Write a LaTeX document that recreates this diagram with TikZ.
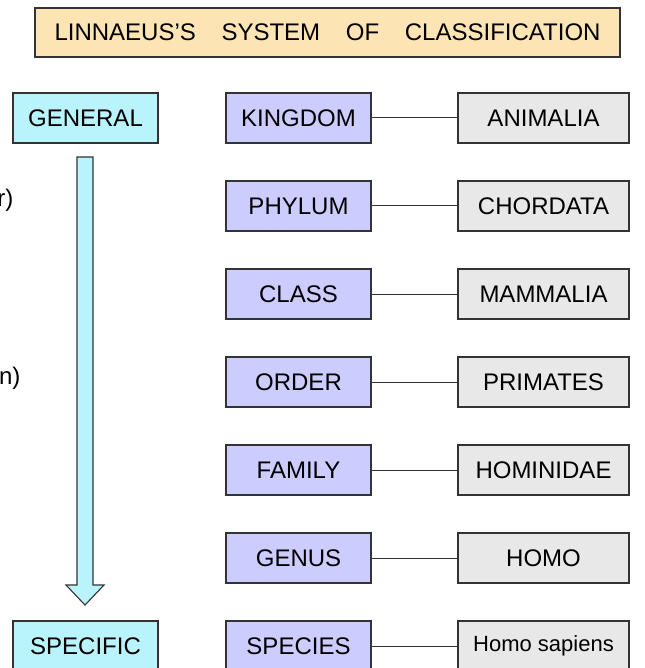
\documentclass[tikz,border=0pt]{standalone}
\usepackage{fontspec}
\setmainfont{Liberation Sans}
\usetikzlibrary{positioning}

\definecolor{titlefill}{HTML}{FCE4B4}
\definecolor{endfill}{HTML}{B9F3FC}
\definecolor{rankfill}{HTML}{CCCCFF}
\definecolor{taxonfill}{HTML}{E8E8E8}
\definecolor{edgegray}{HTML}{333333}

\begin{document}
\begin{tikzpicture}[
  x=1pt, y=-1pt,
  font=\fontsize{24}{28}\selectfont,
  box/.style={draw=edgegray, line width=1.1pt, minimum height=50pt, inner sep=0pt},
  titlebox/.style={box, fill=titlefill, minimum width=585pt, minimum height=49pt},
  endbox/.style={box, fill=endfill, minimum width=145pt},
  rankbox/.style={box, fill=rankfill, minimum width=145pt},
  taxonbox/.style={box, fill=taxonfill, minimum width=171pt},
  link/.style={draw=edgegray, line width=1pt}
]
\path[use as bounding box] (0,0) rectangle (644,668);
\clip (0,0) rectangle (644,668);
% title
\node[titlebox] (title) at (327.5,32.5) {LINNAEUS'S\hspace{19pt} SYSTEM\hspace{19pt} OF\hspace{19pt} CLASSIFICATION};
% general to specific
\node[endbox] (general) at (85.5,118) {GENERAL};
\node[endbox] (specific) at (85.5,646) {SPECIFIC};
\filldraw[fill=endfill, draw=edgegray, line width=1.1pt]
  (77,157) -- (93,157) -- (93,585) -- (104,585) -- (85,605) -- (66,585) -- (77,585) -- cycle;
% cut off notes at the left edge
\node[anchor=east] (noteA) at (17,200) {r)};
\node[anchor=east] (noteB) at (24,378) {n)};
% ranks and examples
\foreach \i/\rank/\taxon in {0/KINGDOM/ANIMALIA, 1/PHYLUM/CHORDATA, 2/CLASS/MAMMALIA,
  3/ORDER/PRIMATES, 4/FAMILY/HOMINIDAE, 5/GENUS/HOMO,
  6/SPECIES/{\fontsize{22}{26}\selectfont Homo\ sapiens}} {
  \node[rankbox] (rank\i) at (298.5,118+88*\i) {\rank};
  \node[taxonbox] (taxon\i) at (543.5,118+88*\i) {\taxon};
  \draw[link] (rank\i) -- (taxon\i);
}
\end{tikzpicture}
\end{document}
